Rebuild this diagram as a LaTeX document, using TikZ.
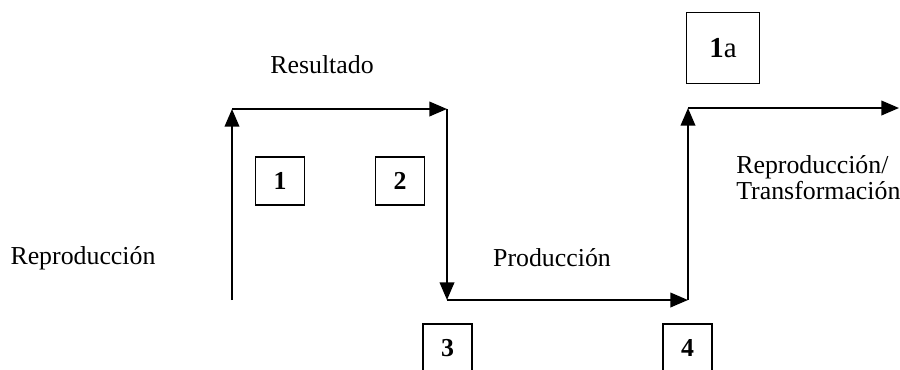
\documentclass[tikz,border=0pt]{standalone}
\usepackage{fontspec}
\setmainfont{Liberation Serif}
\usetikzlibrary{arrows.meta}

\begin{document}
\begin{tikzpicture}[x=0.017cm,y=-0.017cm,
        flow/.style={line width=1pt,-{Triangle[length=8.5pt,width=7pt]}},
        numbox/.style={draw,line width=0.7pt,minimum width=0.83cm,minimum height=0.82cm,font=\fontsize{12.5}{14}\selectfont\bfseries},
        lbl/.style={font=\fontsize{12.5}{12.6}\selectfont}]
        \useasboundingbox (0,0) rectangle (900,369);

        % corners of the step line
        \coordinate (start)  at (232,300);
        \coordinate (topA)   at (232,109);
        \coordinate (topB)   at (447,109);
        \coordinate (lowA)   at (447,300);
        \coordinate (lowB)   at (688,300);
        \coordinate (topC)   at (688,108);
        \coordinate (finish) at (899,108);

        \draw[flow] (start) -- (topA);
        \draw[flow] (topA) -- (topB);
        \draw[flow] (topB) -- (lowA);
        \draw[flow] (lowA) -- (lowB);
        \draw[flow] (lowB) -- (topC);
        \draw[flow] (topC) -- (finish);

        % boxes
        \node[numbox] (one)   at (280,181) {1};
        \node[numbox] (two)   at (400,181) {2};
        \node[numbox] (three) at (447.5,348) {3};
        \node[numbox] (four)  at (687.5,348) {4};
        \node[numbox,minimum width=1.24cm,minimum height=1.2cm,font=\fontsize{14}{15}\selectfont] (onea) at (723,48) {\textbf{1}\textmd{a}};

        % labels
        \node[lbl] (resultado)  at (322,65)  {Resultado};
        \node[lbl] (produccion) at (552,258) {Producción};
        \node[lbl] (reprod)     at (83,258)  {Reproducción};
        \node[lbl,align=left,anchor=north west] (transf) at (729,148) {Reproducción/\\Transformación};

    \end{tikzpicture}
\end{document}
